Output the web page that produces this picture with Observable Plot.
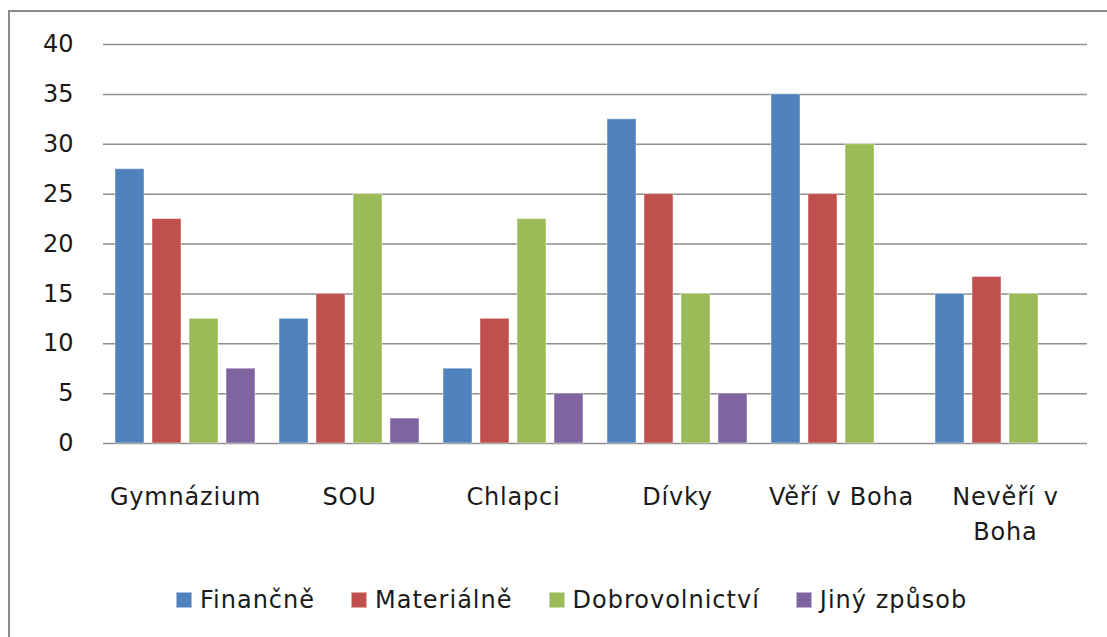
<!DOCTYPE html>
<html>
<head>
<meta charset="utf-8">
<script src="https://cdn.jsdelivr.net/npm/d3@7"></script>
<script src="https://cdn.jsdelivr.net/npm/@observablehq/plot@0.6"></script>
<style>
  html, body { margin: 0; padding: 0; background: #fff; overflow: hidden; }
  #wrap { position: relative; width: 1107px; height: 637px; overflow: hidden; font-family: "DejaVu Sans", sans-serif; }
  #lineTop { position: absolute; left: 8px; top: 10px; width: 1099px; height: 2px; background: #8c8c8c; }
  #lineLeft { position: absolute; left: 8px; top: 10px; width: 2px; height: 627px; background: #8c8c8c; }
  #chart { position: absolute; left: 0; top: 0; }
  #legend { position: absolute; left: 176px; top: 586px; display: flex; align-items: center; font-size: 24px; letter-spacing: 1px; color: #1a1a1a; white-space: nowrap; }
  .item { display: flex; align-items: center; margin-right: 36px; }
  .sw { width: 16px; height: 16px; margin-right: 8px; box-sizing: border-box; border: 1px solid rgba(255,255,255,0.5); }
  g[aria-label="fx-axis tick label"] text { letter-spacing: 0.8px; }
</style>
</head>
<body>
<div id="wrap">
  <div id="lineTop"></div>
  <div id="lineLeft"></div>
  <div id="chart"></div>
  <div id="legend"></div>
</div>
<script>
const categories = ["Gymnázium", "SOU", "Chlapci", "Dívky", "Věří v Boha", "Nevěří v Boha"];
const series = ["Finančně", "Materiálně", "Dobrovolnictví", "Jiný způsob"];
const colors = ["#4F81BD", "#C0504D", "#9BBB59", "#8064A2"];
const financne = [27.5, 12.5, 7.5, 32.5, 35, 15];
const materialne = [22.5, 15, 12.5, 25, 25, 16.7];
const dobrovolnictvi = [12.5, 25, 22.5, 15, 30, 15];
const jinyZpusob = [7.5, 2.5, 5, 5, 0, 0];
const yTicks = [0, 5, 10, 15, 20, 25, 30, 35, 40];

const seriesValues = [financne, materialne, dobrovolnictvi, jinyZpusob];
const data = [];
categories.forEach((c, i) => {
  series.forEach((s, j) => {
    data.push({category: c, series: s, value: seriesValues[j][i]});
  });
});

const labelFormat = d => d === "Nevěří v Boha" ? "Nevěří v\nBoha" : d;

const chart = Plot.plot({
  width: 1107,
  height: 570,
  marginLeft: 103,
  marginRight: 20,
  marginTop: 44,
  marginBottom: 127,
  style: {fontFamily: "DejaVu Sans, sans-serif", background: "transparent", color: "#1a1a1a"},
  fx: {domain: categories, padding: 0, label: null},
  x: {domain: series, paddingInner: 0.216, paddingOuter: 0.324, axis: null},
  y: {domain: [0, 40], label: null},
  color: {domain: series, range: colors},
  marks: [
    Plot.ruleY(yTicks, {stroke: "#8e8e8e", strokeWidth: 1.5}),
    Plot.barY(data, {fx: "category", x: "series", y: "value", fill: "series",
      stroke: "white", strokeOpacity: 0.45, strokeWidth: 1,
      filter: d => d.value > 0}),
    Plot.axisY(yTicks, {tickSize: 0, tickPadding: 30, fontSize: 24, label: null, anchor: "left"}),
    Plot.axisFx({tickSize: 0, tickPadding: 37, fontSize: 24, lineHeight: 1.45, tickFormat: labelFormat, label: null, anchor: "bottom"})
  ]
});
document.getElementById("chart").appendChild(chart);

const legend = document.getElementById("legend");
series.forEach((s, i) => {
  const item = document.createElement("div");
  item.className = "item";
  const sw = document.createElement("div");
  sw.className = "sw";
  sw.style.background = colors[i];
  const t = document.createElement("span");
  t.textContent = s;
  item.appendChild(sw);
  item.appendChild(t);
  legend.appendChild(item);
});
</script>
</body>
</html>
